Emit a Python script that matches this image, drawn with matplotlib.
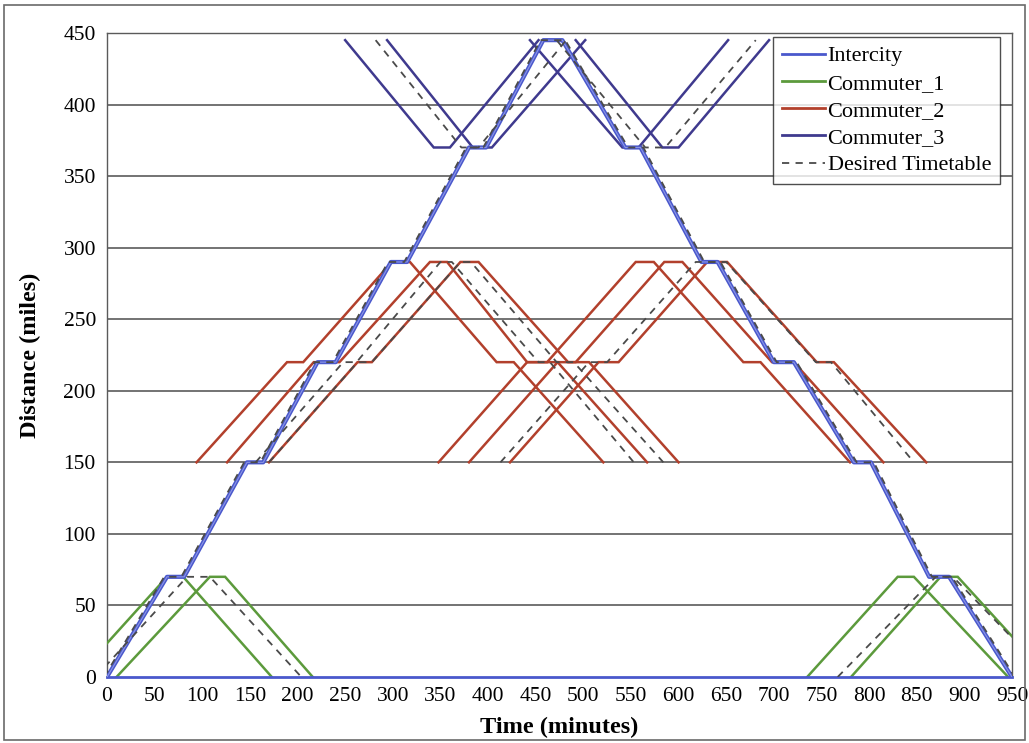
import matplotlib
matplotlib.use("Agg")
import matplotlib.pyplot as plt
from matplotlib.lines import Line2D
from matplotlib.patches import Rectangle

# ---------------- data (minutes, miles) ----------------
intercity_t = [0, 63, 81, 147, 164, 221, 240, 298, 315, 380, 398, 458,
               478, 544, 560, 624, 641, 700, 721, 784, 802, 863, 884, 950]
intercity_d = [0, 70, 70, 150, 150, 220, 220, 290, 290, 370, 370, 445,
               445, 370, 370, 290, 290, 220, 220, 150, 150, 70, 70, 0]

desired_intercity_t = [-3, 60, 78, 144, 161, 218, 237, 295, 312, 377, 395, 455,
                       481, 547, 563, 627, 644, 703, 724, 787, 805, 866, 887, 953]

commuter1_d = [0, 70, 70, 0]
commuter1_t = [[-32, 63, 80, 173],
               [10, 108, 124, 216],
               [735, 830, 847, 946],
               [781, 875, 893, 989]]
desired_c1_t = [[-12, 84, 108, 204],
                [767, 870, 888, 990]]

commuter2_d = [150, 220, 220, 290, 290, 220, 220, 150]
commuter2_t = [[94, 189, 206, 299, 318, 409, 427, 521],
               [126, 217, 244, 339, 357, 441, 473, 567],
               [170, 263, 278, 371, 390, 484, 506, 600],
               [348, 441, 462, 555, 574, 668, 686, 780],
               [380, 473, 492, 585, 604, 698, 721, 815],
               [423, 516, 537, 630, 651, 745, 763, 860]]
desired_c2_t = [[156, 248, 262, 350, 362, 453, 465, 553],
                [170, 263, 278, 371, 382, 472, 490, 584],
                [413, 506, 525, 618, 650, 744, 760, 847]]

commuter3_d = [445, 370, 370, 445]
commuter3_t = [[250, 343, 360, 453],
               [294, 384, 404, 502],
               [444, 541, 558, 652],
               [492, 583, 600, 695]]
desired_c3_t = [[282, 372, 390, 482],
                [472, 565, 586, 681]]

series_names = ["Intercity", "Commuter_1", "Commuter_2", "Commuter_3", "Desired Timetable"]
x_ticks = list(range(0, 951, 50))
y_ticks = list(range(0, 451, 50))

# ---------------- styling ----------------
C_IC = "#4a58cc"
C_C1 = "#5c9a3c"
C_C2 = "#b2402c"
C_C3 = "#3f3a8e"
C_DES = "#4a4a4a"
SERIF = ["Liberation Serif", "DejaVu Serif"]
plt.rcParams["font.family"] = SERIF

fig = plt.figure(figsize=(10.29, 7.43), dpi=100)
ax = fig.add_axes([107 / 1029, 1 - 677 / 743, (1012 - 107) / 1029, (677 - 33) / 743])

for y in y_ticks[1:]:
    ax.axhline(y, color="#4d4d4d", lw=1.1, zorder=1)

lw_c = 1.8
for t in commuter1_t:
    ax.plot(t, commuter1_d, color=C_C1, lw=lw_c, zorder=3, solid_joinstyle="miter")
for t in commuter2_t:
    ax.plot(t, commuter2_d, color=C_C2, lw=lw_c, zorder=3, solid_joinstyle="miter")
for t in commuter3_t:
    ax.plot(t, commuter3_d, color=C_C3, lw=lw_c, zorder=3, solid_joinstyle="miter")

ax.plot(intercity_t, intercity_d, color=C_IC, lw=3.0, zorder=4)
ax.plot(intercity_t, intercity_d, color="#8c96e6", lw=0.8, zorder=4.1)

dash = dict(color=C_DES, lw=1.3, ls=(0, (4, 3.5)), zorder=5)
ax.plot(desired_intercity_t, intercity_d, **dash)
for t in desired_c1_t:
    ax.plot(t, commuter1_d, **dash)
for t in desired_c2_t:
    ax.plot(t, commuter2_d, **dash)
for t in desired_c3_t:
    ax.plot(t, commuter3_d, **dash)

ax.set_xlim(0, 950)
ax.set_ylim(0, 450)
ax.set_xticks(x_ticks)
ax.set_yticks(y_ticks)
ax.tick_params(length=0, labelsize=15.5, pad=8)
ax.tick_params(axis="x", pad=7)
for s in ["left", "right", "top"]:
    ax.spines[s].set_color("#5a5a5a")
    ax.spines[s].set_linewidth(1.0)
ax.spines["bottom"].set_color(C_IC)
ax.spines["bottom"].set_linewidth(2.0)
ax.spines["bottom"].set_zorder(4)

ax.set_xlabel("Time (minutes)", fontsize=17.5, fontweight="bold")
ax.set_ylabel("Distance (miles)", fontsize=17.5, fontweight="bold")
ax.xaxis.set_label_coords(0.5, -0.062)
ax.yaxis.set_label_coords(-0.073, 0.5)

handles = [Line2D([], [], color=C_IC, lw=2),
           Line2D([], [], color=C_C1, lw=2),
           Line2D([], [], color=C_C2, lw=2),
           Line2D([], [], color=C_C3, lw=2),
           Line2D([], [], color=C_DES, lw=1.3, ls=(0, (4, 3.5)))]
leg = ax.legend(handles, series_names, loc="upper right", bbox_to_anchor=(0.9867, 0.9938),
                fontsize=16, frameon=True, fancybox=False, edgecolor="#222222",
                handlelength=1.95, handletextpad=0.1, borderpad=0.4, labelspacing=0.3,
                borderaxespad=0.0)
leg.get_frame().set_linewidth(1.0)
leg.set_zorder(10)

fig.patches.append(Rectangle((4 / 1029, 3 / 743), 1021 / 1029, 735 / 743,
                             transform=fig.transFigure, fill=False,
                             edgecolor="#6a6a6a", lw=1.2))

fig.savefig("out.png", dpi=100)
